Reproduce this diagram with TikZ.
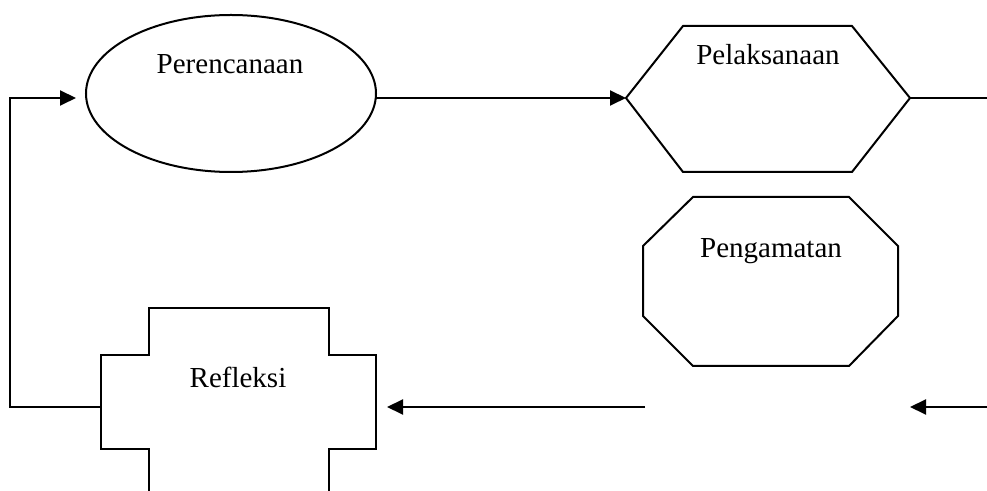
\documentclass[tikz,border=0pt]{standalone}
\usepackage{fontspec}
\setmainfont{Liberation Serif}
\usetikzlibrary{shapes.geometric,arrows.meta}

\tikzset{
	arr/.style={-{Triangle[length=8pt,width=7.5pt]}},
	lbl/.style={font=\fontsize{14.5}{17}\selectfont, inner sep=0pt, anchor=base},
}

\begin{document}
\begin{tikzpicture}[x=0.5pt,y=-0.5pt,line width=1pt]
		\useasboundingbox (0,0) rectangle (987,491);

		% shapes
		\node[draw,ellipse,minimum width=145pt,minimum height=78.5pt] (plan) at (231,93.5) {};
		\draw (626,98) -- (683,26) -- (852,26) -- (910,98) -- (852,172) -- (683,172) -- cycle;
		\draw (643,246) -- (693,197) -- (849,197) -- (898,246) -- (898,316) -- (849,366) -- (693,366) -- (643,316) -- cycle;
		\draw (149,491) -- (149,449) -- (101,449) -- (101,355) -- (149,355) -- (149,308)
			-- (329,308) -- (329,355) -- (376,355) -- (376,449) -- (329,449) -- (329,491);

		% labels
		\node[lbl] (plantext) at (230,74)  {Perencanaan};
		\node[lbl] (acttext)  at (768,65)  {Pelaksanaan};
		\node[lbl] (obstext)  at (771,258) {Pengamatan};
		\node[lbl] (refltext) at (238,388) {Refleksi};

		% connector ends
		\coordinate (planin)   at (76,98);
		\coordinate (planout)  at (376,98);
		\coordinate (actin)    at (626,98);
		\coordinate (actout)   at (910,98);
		\coordinate (actend)   at (987,98);
		\coordinate (reflin)   at (387,407);
		\coordinate (reflout)  at (101,407);
		\coordinate (corner)   at (10,407);
		\coordinate (midstart) at (645,407);
		\coordinate (rstart)   at (987,407);
		\coordinate (rend)     at (910,407);

		\draw[arr] (planout) -- (actin);
		\draw (actout) -- (actend);
		\draw[arr] (midstart) -- (reflin);
		\draw[arr] (rstart) -- (rend);
		\draw[arr] (reflout) -- (corner) |- (planin);
	\end{tikzpicture}
\end{document}
